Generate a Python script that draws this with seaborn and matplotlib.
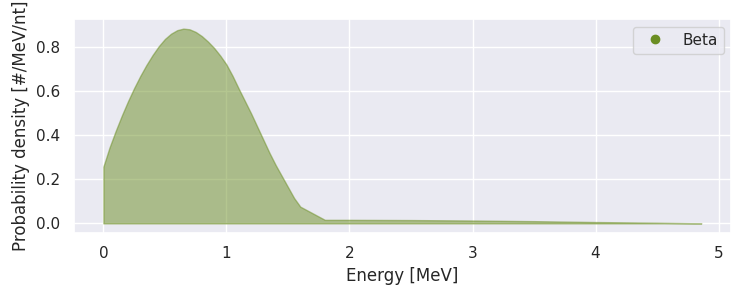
import numpy as np
import pandas as pd
import matplotlib
matplotlib.use("Agg")
import matplotlib.pyplot as plt
from matplotlib.lines import Line2D
import seaborn as sns

energy = [0.00, 0.05, 0.10, 0.15, 0.20, 0.25, 0.30, 0.35, 0.40, 0.45,
          0.50, 0.55, 0.60, 0.65, 0.70, 0.75, 0.80, 0.85, 0.90, 0.95,
          1.00, 1.05, 1.10, 1.15, 1.20, 1.25, 1.30, 1.35, 1.40, 1.45,
          1.50, 1.55, 1.60, 1.80, 2.00, 2.50, 3.00, 3.50, 4.00, 4.50, 4.86]
density = [0.258, 0.345, 0.420, 0.490, 0.555, 0.615, 0.670, 0.720, 0.765, 0.805,
           0.838, 0.862, 0.878, 0.885, 0.882, 0.870, 0.851, 0.826, 0.797, 0.762,
           0.722, 0.670, 0.612, 0.556, 0.500, 0.440, 0.380, 0.320, 0.265, 0.215,
           0.165, 0.115, 0.076, 0.016, 0.016, 0.015, 0.013, 0.010, 0.006, 0.003, 0.000]
series_label = "Beta"
x_label = "Energy [MeV]"
y_label = "Probability density [#/MeV/nt]"

color = "#6b8e23"

sns.set_theme(style="darkgrid")
plt.rcParams["font.family"] = ["DejaVu Sans"]

df = pd.DataFrame({"Energy": energy, "Density": density})

fig, ax = plt.subplots(figsize=(7.5, 3.0), dpi=100)
fig.subplots_adjust(left=0.098, right=0.975, top=0.937, bottom=0.223)

ax.fill_between(df["Energy"], 0, df["Density"], facecolor=color,
                edgecolor=color, alpha=0.5, linewidth=1.0)

handle = Line2D([], [], marker="o", linestyle="none", color=color,
                markersize=6)
ax.legend([handle], [series_label], loc="upper right", fontsize=11)

ax.set_xlabel(x_label, fontsize=12)
ax.set_ylabel(y_label, fontsize=12)
ax.tick_params(labelsize=11)

fig.savefig("out.png", dpi=100)
